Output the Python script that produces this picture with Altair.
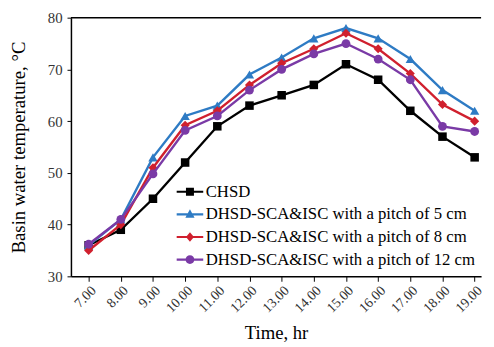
import altair as alt
import pandas as pd

hours = [7, 8, 9, 10, 11, 12, 13, 14, 15, 16, 17, 18, 19]
chsd = [36, 39, 45, 52, 59, 63, 65, 67, 71, 68, 62, 57, 53]
p5 = [36, 41, 53, 61, 63, 69, 72.3, 76, 78, 76, 72, 66, 62]
p8 = [35, 40, 51, 59.2, 62, 67, 71.2, 74, 77, 74, 69.2, 63.2, 60]
p12 = [36.2, 41, 49.8, 58.2, 61, 66, 70, 73, 75, 72, 68, 59, 58]

series = ["CHSD",
          "DHSD-SCA&ISC with a pitch of 5 cm",
          "DHSD-SCA&ISC with a pitch of 8 cm",
          "DHSD-SCA&ISC with a pitch of 12 cm"]
colors = ["#000000", "#2E7BC4", "#D0202E", "#7A3AA6"]
shapes = ["square", "triangle-up", "diamond", "circle"]
sizes = [75, 90, 85, 80]
LINE = "M-1.5,-0.12H1.5V0.12H-1.5Z"
legend_paths = [
    LINE + "M-0.45,-0.45H0.45V0.45H-0.45Z",
    LINE + "M0,-0.58L0.52,0.38H-0.52Z",
    LINE + "M0,-0.55L0.45,0L0,0.55L-0.45,0Z",
    LINE + "M-0.5,0A0.5,0.5 0 1,1 0.5,0A0.5,0.5 0 1,1 -0.5,0Z",
]

rows = []
for name, vals in zip(series, [chsd, p5, p8, p12]):
    for h, v in zip(hours, vals):
        rows.append({"hour": h, "temp": v, "series": name})
df = pd.DataFrame(rows)

x = alt.X("hour:Q",
          scale=alt.Scale(domain=[6.45, 19.2], nice=False, zero=False),
          axis=alt.Axis(values=hours, format=".2f", labelAngle=-45, grid=False,
                        labelOverlap=False, labelBound=False, labelFlush=False,
                        title="Time, hr", tickSize=5, domainColor="black",
                        domainWidth=1.5, tickColor="black", labelFont="Liberation Serif",
                        labelFontSize=14, labelColor="#333", titleFont="Liberation Serif",
                        titleFontSize=19, titleFontWeight=400, titleColor="black",
                        titlePadding=9, labelPadding=2))
y = alt.Y("temp:Q",
          scale=alt.Scale(domain=[30, 80], nice=False, zero=False),
          axis=alt.Axis(values=list(range(30, 81, 5)),
                        labelExpr="datum.value % 10 == 0 ? datum.label : ''",
                        grid=False, title="Basin water temperature, °C", tickSize=4,
                        domainColor="black", domainWidth=1.5, tickColor="black",
                        labelFont="Liberation Serif", labelFontSize=15, labelColor="#333",
                        titleFont="Liberation Serif", titleFontSize=19,
                        titleFontWeight=400, titleColor="black", titlePadding=19,
                        labelPadding=5))

base = alt.Chart(df)
layers = []
for name, col, shp, sz in zip(series, colors, shapes, sizes):
    sub = base.transform_filter(alt.datum.series == name)
    layers.append(sub.mark_line(strokeWidth=2.4, color=col).encode(x=x, y=y))
    layers.append(sub.mark_point(filled=True, size=sz, opacity=1, shape=shp, color=col)
                  .encode(x=x, y=y))

legend = alt.Legend(title=None, orient="none", legendX=111, legendY=167, padding=0,
                    symbolSize=324, symbolOpacity=1, labelFont="Liberation Serif",
                    labelFontSize=17, labelColor="black", labelOffset=6, rowPadding=5,
                    labelLimit=400)
leg = base.mark_point(filled=True, size=324, opacity=0).encode(
    x=x, y=y,
    shape=alt.Shape("series:N", scale=alt.Scale(domain=series, range=legend_paths),
                    legend=legend),
    color=alt.Color("series:N", scale=alt.Scale(domain=series, range=colors),
                    legend=legend),
)

top = alt.Chart(pd.DataFrame({"v": [80]})).mark_rule(color="black", strokeWidth=1.5).encode(
    y=alt.Y("v:Q"))

chart = alt.layer(top, *layers, leg).properties(
    width=417, height=263,
    autosize=alt.AutoSizeParams(type="none"),
    padding={"left": 64, "top": 7, "right": 5, "bottom": 68},
).configure_view(stroke=None)

chart.save("out.html", embed_options={"renderer": "svg", "actions": False})
